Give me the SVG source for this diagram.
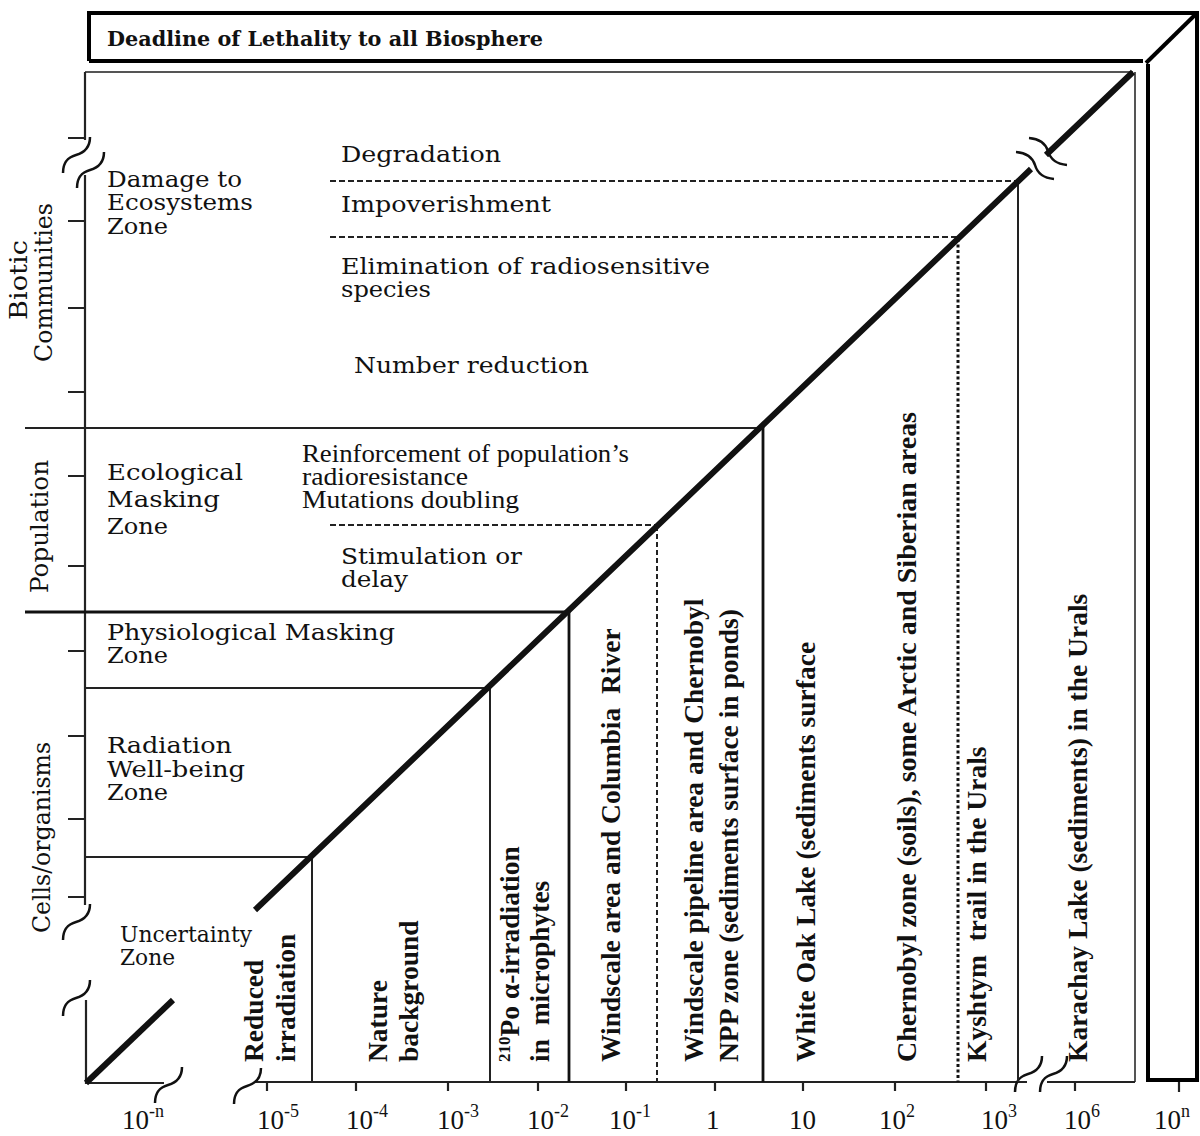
<svg xmlns="http://www.w3.org/2000/svg" width="1200" height="1136" viewBox="0 0 1200 1136">
<style>
.frame{fill:none;stroke:#000;stroke-width:4}
.bd{fill:none;stroke:#555;stroke-width:2}
.ax{fill:none;stroke:#222;stroke-width:2.2}
.ln{fill:none;stroke:#222;stroke-width:2}
.lnb{fill:none;stroke:#111;stroke-width:2.8}
.dash{fill:none;stroke:#222;stroke-width:2;stroke-dasharray:6 3}
.dot{fill:none;stroke:#111;stroke-width:3;stroke-dasharray:3 2.5}
.diag{fill:none;stroke:#111;stroke-width:6}
.brk{fill:none;stroke:#111;stroke-width:2.5}
.z{font-family:"DejaVu Serif",serif;font-size:22px;fill:#111}
.r{font-family:"DejaVu Serif",serif;font-size:23px;fill:#111}
.a{font-family:"DejaVu Serif",serif;font-size:25px;fill:#111}
.c{font-family:"Liberation Serif",serif;font-size:25px;fill:#111}
.v{font-family:"Liberation Serif",serif;font-size:27.5px;font-weight:bold;fill:#111}
.n{font-family:"Liberation Serif",serif;font-size:27px;fill:#111}
.s{font-size:18px}
.h{font-family:"DejaVu Serif",serif;font-size:21px;font-weight:bold;fill:#111}
</style>
<defs>
<path id="sq" d="M0,0 C0,-12 6,-16 13,-18 S27,-24 27,-36"/>
</defs>

<g id="frame3d">
<path class="frame" d="M89,61 V13 H1197 V1080 H1148 V64"/>
<path class="frame" d="M89,61 H1143"/>
<path class="frame" d="M1146,63 L1197,13"/>
<text class="h" x="107" y="46" textLength="436" lengthAdjust="spacingAndGlyphs">Deadline of Lethality to all Biosphere</text>
</g>

<g id="axes">
<path class="bd" d="M85,72 H1133 M1135,72 V1082"/>
<path class="ax" d="M85,72 V140 M85,175 V905"/>
<path class="ax" d="M68,138 H85 M68,221 H85 M68,308 H85 M68,392 H85 M68,476 H85 M68,566 H85 M68,651 H85 M68,736 H85 M68,819 H85 M68,897 H85"/>
<path class="ax" d="M255,1082 H1027 M1047,1082 H1135"/>
<path class="ax" d="M267,1082 V1091 M356,1082 V1091 M448,1082 V1091 M538,1082 V1091 M626,1082 V1091 M715,1082 V1091 M803,1082 V1091 M895,1082 V1091 M986,1082 V1091 M1075,1082 V1091 M1179,1082 V1092"/>
<use href="#sq" class="brk" transform="translate(63,173)"/>
<use href="#sq" class="brk" transform="translate(77,188)"/>
<use href="#sq" class="brk" transform="translate(63,940)"/>
<use href="#sq" class="brk" transform="translate(234,1104)"/>
<use href="#sq" class="brk" transform="translate(1015,1092)"/>
<use href="#sq" class="brk" transform="translate(1040,1092)"/>
</g>

<g id="inset">
<path class="ax" d="M86,1000 V1083 H164"/>
<path class="diag" d="M86,1083 L173,1000"/>
<use href="#sq" class="brk" transform="translate(63,1016)"/>
<use href="#sq" class="brk" transform="translate(155,1103)"/>
</g>

<g id="connectors">
<path class="ln" d="M25,428 H760"/>
<path class="lnb" d="M25,612 H568"/>
<path class="ln" d="M85,688 H490"/>
<path class="ln" d="M85,857 H312"/>
<path class="ln" d="M312,857 V1082"/>
<path class="ln" d="M490,688 V1082"/>
<path class="lnb" d="M569,612 V1082"/>
<path class="dash" d="M657,526 V1082" style="stroke-dasharray:5 3"/>
<path class="lnb" d="M763,427 V1082"/>
<path class="dot" d="M958,239 V1082"/>
<path class="ln" d="M1018,180 V1082"/>
<path class="dash" d="M330,181 H1018"/>
<path class="dash" d="M330,237 H958"/>
<path class="dash" d="M330,525 H657"/>
<path class="diag" d="M255,910 L1031,169 M1046,155 L1133,72"/>
<path class="brk" d="M1016,152 C1028,153 1033,159 1035,165 C1037,172 1043,178 1054,179"/>
<path class="brk" d="M1029,138 C1041,139 1046,145 1048,151 C1050,158 1056,164 1067,165"/>
</g>

<g id="axis-labels">
<text class="a" transform="translate(27,320) rotate(-90)" textLength="80" lengthAdjust="spacingAndGlyphs">Biotic</text>
<text class="a" transform="translate(52,362) rotate(-90)" textLength="159" lengthAdjust="spacingAndGlyphs">Communities</text>
<text class="a" transform="translate(48,593) rotate(-90)" textLength="133" lengthAdjust="spacingAndGlyphs">Population</text>
<text class="a" transform="translate(50,933) rotate(-90)" textLength="191" lengthAdjust="spacingAndGlyphs">Cells/organisms</text>
</g>

<g id="zone-damage">
<text class="z" x="107" y="187" textLength="135" lengthAdjust="spacingAndGlyphs">Damage to</text>
<text class="z" x="107" y="210" textLength="146" lengthAdjust="spacingAndGlyphs">Ecosystems</text>
<text class="z" x="107" y="234" textLength="61" lengthAdjust="spacingAndGlyphs">Zone</text>
</g>
<g id="zone-ecological">
<text class="z" x="107" y="480" textLength="136" lengthAdjust="spacingAndGlyphs">Ecological</text>
<text class="z" x="107" y="507" textLength="113" lengthAdjust="spacingAndGlyphs">Masking</text>
<text class="z" x="107" y="534" textLength="61" lengthAdjust="spacingAndGlyphs">Zone</text>
</g>
<g id="zone-physiological">
<text class="z" x="107" y="640" textLength="288" lengthAdjust="spacingAndGlyphs">Physiological Masking</text>
<text class="z" x="107" y="663" textLength="61" lengthAdjust="spacingAndGlyphs">Zone</text>
</g>
<g id="zone-wellbeing">
<text class="z" x="107" y="753" textLength="125" lengthAdjust="spacingAndGlyphs">Radiation</text>
<text class="z" x="107" y="777" textLength="138" lengthAdjust="spacingAndGlyphs">Well-being</text>
<text class="z" x="107" y="800" textLength="61" lengthAdjust="spacingAndGlyphs">Zone</text>
</g>
<g id="zone-uncertainty">
<text class="z" x="120" y="942" textLength="132" lengthAdjust="spacingAndGlyphs">Uncertainty</text>
<text class="z" x="120" y="965" textLength="55" lengthAdjust="spacingAndGlyphs">Zone</text>
</g>

<g id="effects">
<text class="r" x="341" y="162" textLength="160" lengthAdjust="spacingAndGlyphs">Degradation</text>
<text class="r" x="341" y="212" textLength="210" lengthAdjust="spacingAndGlyphs">Impoverishment</text>
<text class="r" x="341" y="274" textLength="369" lengthAdjust="spacingAndGlyphs">Elimination of radiosensitive</text>
<text class="r" x="341" y="297" textLength="90" lengthAdjust="spacingAndGlyphs">species</text>
<text class="r" x="354" y="373" textLength="235" lengthAdjust="spacingAndGlyphs">Number reduction</text>
<text class="c" x="302" y="462" textLength="327" lengthAdjust="spacingAndGlyphs">Reinforcement of population’s</text>
<text class="c" x="302" y="485" textLength="166" lengthAdjust="spacingAndGlyphs">radioresistance</text>
<text class="c" x="302" y="508" textLength="217" lengthAdjust="spacingAndGlyphs">Mutations doubling</text>
<text class="r" x="341" y="564" textLength="181" lengthAdjust="spacingAndGlyphs">Stimulation or</text>
<text class="r" x="341" y="587" textLength="67" lengthAdjust="spacingAndGlyphs">delay</text>
</g>

<g id="sites">
<text class="v" transform="translate(263,1062) rotate(-90)">Reduced</text>
<text class="v" transform="translate(295,1062) rotate(-90)">irradiation</text>
<text class="v" transform="translate(387,1062) rotate(-90)">Nature</text>
<text class="v" transform="translate(418,1062) rotate(-90)">background</text>
<text class="v" transform="translate(519,1062) rotate(-90)"><tspan font-size="17" dy="-9">210</tspan><tspan dy="9">Po α-irradiation</tspan></text>
<text class="v" transform="translate(549,1062) rotate(-90)">in&#160; microphytes</text>
<text class="v" transform="translate(620,1062) rotate(-90)">Windscale area and Columbia&#160; River</text>
<text class="v" transform="translate(703,1062) rotate(-90)">Windscale pipeline area and Chernobyl</text>
<text class="v" transform="translate(738,1062) rotate(-90)">NPP zone (sediments surface in ponds)</text>
<text class="v" transform="translate(815,1062) rotate(-90)">White Oak Lake (sediments surface</text>
<text class="v" transform="translate(916,1062) rotate(-90)" textLength="650" lengthAdjust="spacingAndGlyphs">Chernobyl zone (soils), some Arctic and Siberian areas</text>
<text class="v" transform="translate(986,1062) rotate(-90)">Kyshtym&#160; trail in the Urals</text>
<text class="v" transform="translate(1087,1062) rotate(-90)">Karachay Lake (sediments) in the Urals</text>
</g>

<g id="ticks-labels">
<text class="n" x="122" y="1129">10<tspan class="s" dy="-12">-n</tspan></text>
<text class="n" x="257" y="1129">10<tspan class="s" dy="-12">-5</tspan></text>
<text class="n" x="346" y="1129">10<tspan class="s" dy="-12">-4</tspan></text>
<text class="n" x="437" y="1129">10<tspan class="s" dy="-12">-3</tspan></text>
<text class="n" x="527" y="1129">10<tspan class="s" dy="-12">-2</tspan></text>
<text class="n" x="609" y="1129">10<tspan class="s" dy="-12">-1</tspan></text>
<text class="n" x="706" y="1129">1</text>
<text class="n" x="789" y="1129">10</text>
<text class="n" x="879" y="1129">10<tspan class="s" dy="-12">2</tspan></text>
<text class="n" x="981" y="1129">10<tspan class="s" dy="-12">3</tspan></text>
<text class="n" x="1064" y="1129">10<tspan class="s" dy="-12">6</tspan></text>
<text class="n" x="1154" y="1129">10<tspan class="s" dy="-12">n</tspan></text>
</g>
</svg>
